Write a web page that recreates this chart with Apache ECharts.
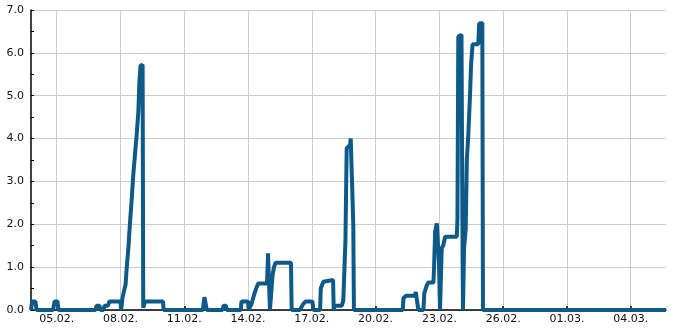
<!DOCTYPE html>
<html>
<head>
<meta charset="utf-8">
<script src="https://cdn.jsdelivr.net/npm/echarts@6/dist/echarts.min.js"></script>
<style>
html,body{margin:0;padding:0;background:#fff;}
#chart{width:685px;height:330px;}
</style>
</head>
<body>
<div id="chart"></div>
<script>
// x = days since 01.02.2023 00:00 (so 05.02. = 4)
var dayOffsets = [2.79,2.84,3.00,3.05,3.83,3.90,4.04,4.08,5.83,5.87,6.01,6.06,6.20,6.25,6.41,6.48,7.00,7.03,7.07,7.10,
  7.17,7.24,7.29,7.37,7.45,7.53,7.60,7.68,7.76,7.84,7.89,7.94,8.04,8.07,8.13,8.15,9.00,9.03,10.87,10.91,
  10.95,11.02,11.06,11.80,11.85,11.96,12.00,12.66,12.69,13.00,13.03,13.09,13.17,13.28,13.38,13.48,13.89,13.92,13.94,14.00,
  14.03,14.10,14.15,14.22,14.29,15.02,15.05,15.44,15.57,15.70,16.03,16.07,16.39,16.42,16.54,16.62,17.00,17.03,17.07,17.41,
  17.48,17.55,17.58,17.61,17.64,17.80,17.83,17.92,17.95,17.98,20.28,20.31,20.42,20.85,20.89,20.97,21.01,21.25,21.29,21.41,
  21.48,21.72,21.75,21.80,21.88,21.95,21.98,22.03,22.11,22.19,22.27,22.82,22.85,22.89,23.04,23.09,23.11,23.16,23.24,23.29,
  23.36,23.44,23.49,23.56,23.83,23.87,24.02,24.05,32.66];
var values = [0,0.2,0.2,0,0,0.2,0.2,0,0,0.1,0.1,0,0,0.1,0.1,0.2,0.2,0,0,0.3,
  0.45,0.6,0.97,1.44,2.06,2.6,3.15,3.62,4.08,4.63,5.33,5.7,5.72,0.05,0.05,0.2,0.2,0,0,0.15,
  0.3,0.3,0,0,0.1,0.1,0,0,0.2,0.2,0,0,0.15,0.35,0.5,0.62,0.62,1.0,1.32,1.32,
  0,0,0.8,1.0,1.1,1.1,0,0,0.12,0.2,0.2,0,0,0.5,0.66,0.7,0.7,0,0.1,0.1,
  0.22,0.22,1.6,2.7,3.77,3.85,4.0,4.0,2.0,0,0,0.27,0.33,0.33,0.42,0.42,0,0,0.39,0.58,
  0.64,0.64,1.0,1.83,2.02,2.02,1.13,0,1.44,1.52,1.71,1.71,2.14,6.38,6.42,1.44,0,1.44,1.9,3.5,
  4.08,5.0,5.72,6.2,6.2,6.68,6.7,0,0];
var tickDays = [4,7,10,13,16,19,22,25,28,31];
var xMin = 2.79, xMax = 32.66;
var yMin = 0, yMax = 7, yStep = 1;

var baseMs = Date.UTC(2023, 1, 1);
function dayLabel(v) {
  var d = new Date(baseMs + Math.round(v * 86400000));
  var dd = ('0' + d.getUTCDate()).slice(-2);
  var mm = ('0' + (d.getUTCMonth() + 1)).slice(-2);
  return dd + '.' + mm + '.';
}

var seriesData = dayOffsets.map(function (x, i) { return [x, values[i]]; });

var chart = echarts.init(document.getElementById('chart'), null, {renderer: 'canvas'});
var font = 'DejaVu Sans';
chart.setOption({
  animation: false,
  backgroundColor: '#ffffff',
  grid: {left: 31, right: 19, top: 10, bottom: 20, containLabel: false},
  xAxis: {
    type: 'value',
    min: xMin,
    max: xMax,
    axisLine: {show: true, onZero: false, lineStyle: {color: '#000', width: 1.5}},
    axisTick: {show: true, inside: true, length: 4, customValues: tickDays, lineStyle: {color: '#000', width: 1.5}},
    axisLabel: {customValues: tickDays, formatter: dayLabel, color: '#111', fontFamily: font, fontSize: 11, margin: 4},
    splitLine: {show: true, lineStyle: {color: '#cccccc', width: 1}}
  },
  yAxis: {
    type: 'value',
    min: yMin,
    max: yMax,
    interval: yStep,
    axisLine: {show: true, lineStyle: {color: '#000', width: 1.5}},
    axisTick: {show: true, inside: true, length: 3, lineStyle: {color: '#000'}},
    minorTick: {show: true, splitNumber: 2, length: 3, lineStyle: {color: '#000', width: 1}},
    axisLabel: {formatter: function (v) { return v.toFixed(1); }, color: '#111', fontFamily: font, fontSize: 11, margin: 7},
    splitLine: {show: true, lineStyle: {color: '#cccccc', width: 1}}
  },
  series: [{
    type: 'line',
    data: seriesData,
    showSymbol: false,
    symbol: 'none',
    lineStyle: {color: '#0d5a88', width: 4, join: 'bevel', cap: 'butt'},
    clip: true
  }]
});
</script>
</body>
</html>
